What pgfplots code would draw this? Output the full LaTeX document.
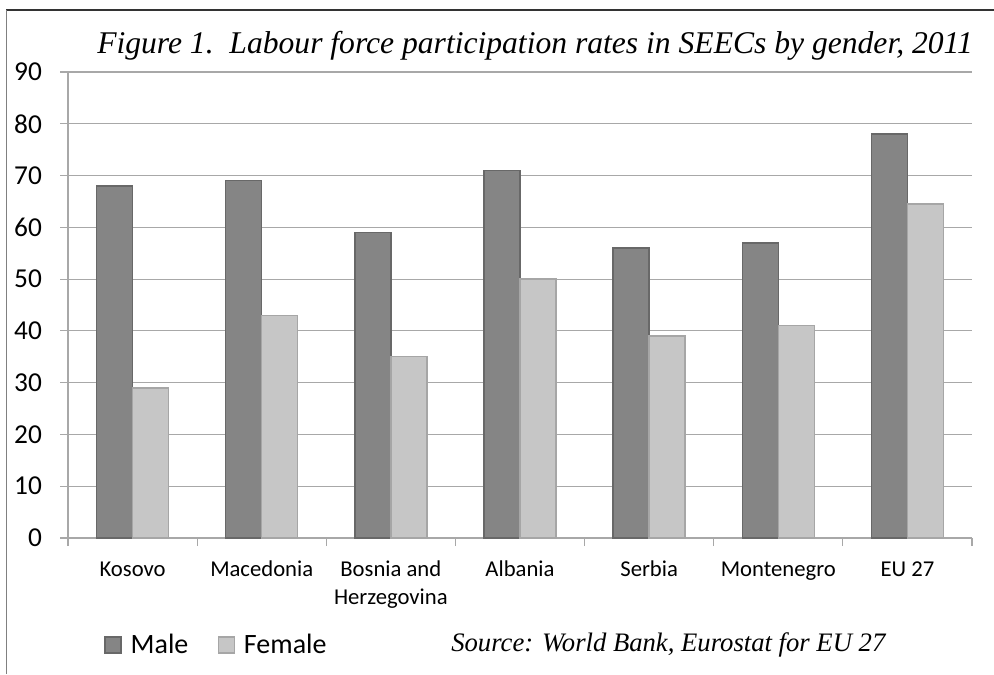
\documentclass[border=0pt]{standalone}
\usepackage{pgfplots}
\pgfplotsset{compat=1.18}
\usepackage{fontspec}
\setmainfont{Carlito}
\newfontfamily\serifit{Liberation Serif}
\definecolor{malec}{HTML}{858585}
\definecolor{maleedge}{HTML}{686868}
\definecolor{femc}{HTML}{C6C6C6}
\definecolor{femedge}{HTML}{A6A6A6}
\definecolor{gridc}{HTML}{A8A8A8}
\begin{document}
\begin{tikzpicture}[x=0.75pt,y=0.75pt]
\useasboundingbox (0,0) rectangle (994,674);
\draw[line width=1.1pt,color=black!80] (6,664) -- (994,664);
\draw[line width=1.4pt,color=black!50] (6.5,664) -- (6.5,0);
\node[anchor=base west,inner sep=0pt,font=\serifit\itshape\fontsize{23.7}{27}\selectfont] at (97,620) {Figure 1.\ \ Labour force participation rates in SEECs by gender, 2011};
\begin{axis}[
  at={(51pt,102pt)}, anchor=south west,
  scale only axis, width=678pt, height=349.5pt,
  ybar=0pt, bar width=27pt,
  xmin=-0.5, xmax=6.5, ymin=0, ymax=90,
  ytick={0,10,...,90},
  xtick={0,...,6},
  xticklabels={\strut Kosovo,\strut Macedonia,{\strut Bosnia and\\Herzegovina},\strut Albania,\strut Serbia,\strut Montenegro,\strut EU 27},
  xticklabel style={align=center, font=\fontsize{17}{21.5}\selectfont, yshift=-4pt},
  minor xtick={-0.5,0.5,...,6.5},
  axis lines=left, axis line style={-, gridc, line width=0.9pt},
  ymajorgrids, grid style={gridc, line width=0.9pt},
  major x tick style={draw=none},
  minor tick length=6pt, major tick length=6pt,
  tick align=outside,
  tick style={gridc, line width=0.9pt},
  yticklabel style={font=\fontsize{20.5}{23}\selectfont, xshift=-10pt},
  /pgf/number format/assume math mode=true,
  legend style={at={(0.04,-0.2296)}, anchor=west, draw=none, legend columns=2,
    font=\fontsize{21}{24}\selectfont, inner sep=0pt,
    nodes={inner sep=0pt},
    /tikz/every odd column/.append style={column sep=6.5pt},
    /tikz/every even column/.append style={column sep=22pt}},
  legend image code/.code={\draw[#1,line width=1.2pt] (0pt,-6pt) rectangle (12pt,6pt);},
  clip=false,
]
\addplot[fill=malec, draw=maleedge, line width=1pt] coordinates {(0,68) (1,69) (2,59) (3,71) (4,56) (5,57) (6,78)};
\addplot[fill=femc, draw=femedge, line width=1pt] coordinates {(0,29) (1,43) (2,35) (3,50) (4,39) (5,41) (6,64.5)};
\legend{Male,Female}
\node[anchor=west, inner sep=0pt, font=\serifit\itshape\fontsize{20}{23}\selectfont] at (axis description cs:0.4237,-0.2296) {Source: World Bank, Eurostat for EU 27};
\end{axis}
\end{tikzpicture}
\end{document}
